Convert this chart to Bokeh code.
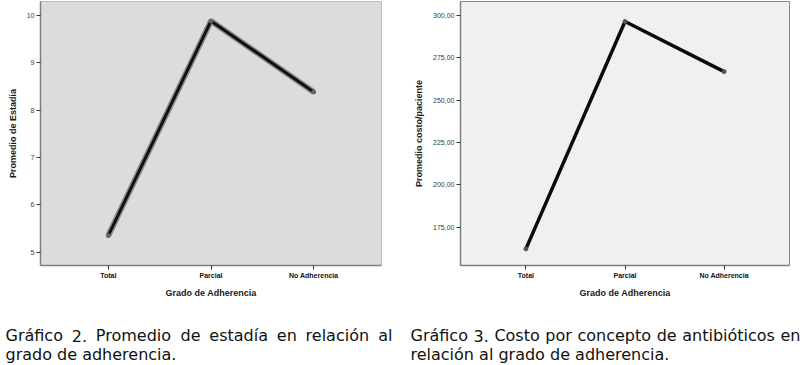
from bokeh.plotting import figure
from bokeh.layouts import column, row
from bokeh.models import Range1d, FixedTicker
from bokeh.core.properties import value
from bokeh.embed import file_html
from bokeh.resources import INLINE

categories = ["Total", "Parcial", "No Adherencia"]
estadia = [5.35, 9.88, 8.38]
costo = [162.1, 296.4, 266.8]
estadia_ticks = [5, 6, 7, 8, 9, 10]
costo_ticks = [175, 200, 225, 250, 275, 300]
caption_left = ["Gráfico 2. Promedio de estadía en relación al", "grado de adherencia."]
caption_right = ["Gráfico 3. Costo por concepto de antibióticos en", "relación al grado de adherencia."]

xs = list(range(len(categories)))


def style(p, ylabel, ticks, labels):
    p.xaxis.ticker = FixedTicker(ticks=xs)
    p.xaxis.major_label_overrides = {i: c for i, c in zip(xs, categories)}
    p.yaxis.ticker = FixedTicker(ticks=ticks)
    p.yaxis.major_label_overrides = {t: l for t, l in zip(ticks, labels)}
    p.xaxis.axis_label = "Grado de Adherencia"
    p.yaxis.axis_label = ylabel
    for ax in (p.xaxis[0], p.yaxis[0]):
        ax.axis_label_text_font = "Liberation Sans"
        ax.axis_label_text_font_style = "bold"
        ax.axis_label_text_font_size = "9px"
        ax.axis_label_text_color = "#1a1a1a"
        ax.major_label_text_font = "Liberation Sans"
        ax.major_label_text_font_size = "7px"
        ax.major_label_text_color = "#3a3a3a"
        ax.major_tick_in = 0
        ax.major_tick_out = 4
        ax.minor_tick_in = 0
        ax.minor_tick_out = 0
        ax.major_tick_line_color = "#333333"
        ax.axis_line_color = "#7F7F7F"
        ax.axis_line_width = 1.5
        ax.major_label_standoff = 2
        ax.axis_label_standoff = 6
    p.xaxis.major_label_text_font_style = "bold"
    p.xaxis.major_label_text_color = "#111111"
    p.xgrid.visible = False
    p.ygrid.visible = False
    p.border_fill_color = "white"


p1 = figure(width=400, height=300, x_range=Range1d(-0.66, 2.66), y_range=Range1d(4.72, 10.29),
            output_backend="svg", toolbar_location=None,
            min_border_left=40, min_border_right=19, min_border_top=1, min_border_bottom=33)
p1.background_fill_color = "#DCDCDC"
p1.outline_line_color = "#BDBDBD"
style(p1, "Promedio de Estadia", estadia_ticks, [str(t) for t in estadia_ticks])
p1.line(xs, estadia, line_width=6, line_color="#8C8C8C")
p1.line(xs, estadia, line_width=3, line_color="#111111")
p1.scatter(xs, estadia, size=4, color="#666666")

p2 = figure(width=404, height=300, x_range=Range1d(-0.66, 2.66), y_range=Range1d(152.3, 308.2),
            output_backend="svg", toolbar_location=None,
            min_border_left=60, min_border_right=15, min_border_top=1, min_border_bottom=33)
p2.background_fill_color = "#F0F0F0"
p2.outline_line_color = "#8A8A8A"
style(p2, "Promedio costo/paciente", costo_ticks, ["%d,00" % t for t in costo_ticks])
p2.line(xs, costo, line_width=3.5, line_color="#0A0A0A")
p2.scatter(xs, costo, size=4, color="#555555")

# caption (DejaVu Sans advance widths, em units) used to justify the first lines
ADV = {" ": .318, ".": .318, "G": .775, "C": .698, "P": .603, "a": .613, "á": .613, "b": .635,
       "c": .550, "d": .635, "e": .615, "f": .352, "g": .635, "h": .634, "i": .278, "í": .278,
       "l": .278, "m": .974, "n": .634, "o": .612, "ó": .612, "p": .635, "r": .411, "s": .521,
       "t": .392, "u": .634, "v": .592, "y": .592}
FS = 16


def wwidth(s):
    return sum(ADV.get(ch, .636) for ch in s) * FS


def justified(line, x0, x1):
    words = line.split(" ")
    total = sum(wwidth(w) for w in words)
    gap = (x1 - x0 - total) / (len(words) - 1)
    xs_, x = [], x0
    for w in words:
        xs_.append(x)
        x += wwidth(w) + gap
    return words, xs_


cap = figure(width=804, height=65, x_range=Range1d(0, 804), y_range=Range1d(65, 0),
             output_backend="svg", toolbar_location=None, min_border=0)
cap.axis.visible = False
cap.xgrid.visible = False
cap.ygrid.visible = False
cap.outline_line_color = None
tw, tx, ty = [], [], []
for lines, x0, x1 in ((caption_left, 5, 392), (caption_right, 410, 800)):
    w, x = justified(lines[0], x0, x1)
    tw += w
    tx += x
    ty += [35] * len(w)
    tw.append(lines[1])
    tx.append(x0)
    ty.append(54)
cap.text(x=tx, y=ty, text=tw, text_font=value("DejaVu Sans"),
         text_font_size="%dpx" % FS, text_color="#111111", text_baseline="alphabetic")

layout = column(row(p1, p2, spacing=0), cap, spacing=0)
open("out.html", "w").write(file_html(layout, INLINE))
